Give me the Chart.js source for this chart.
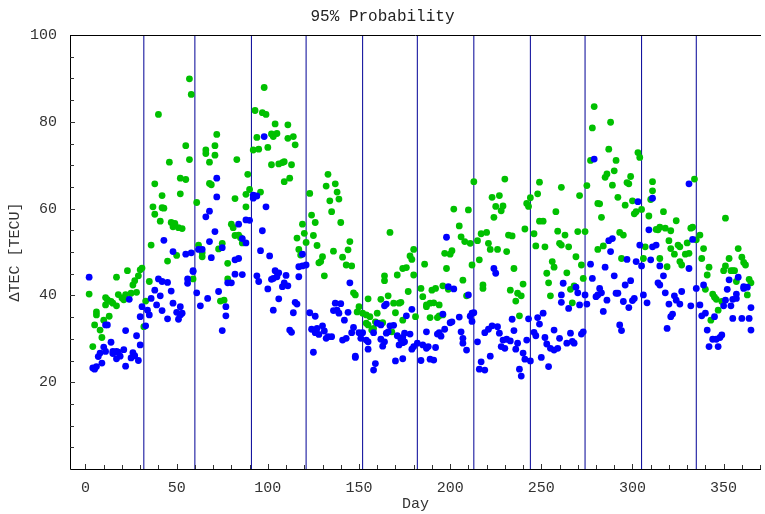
<!DOCTYPE html>
<html>
<head>
<meta charset="utf-8">
<script src="https://cdn.jsdelivr.net/npm/chart.js@4/dist/chart.umd.min.js"></script>
<style>
  html, body { margin: 0; padding: 0; background: #ffffff; }
  #wrap { width: 765px; height: 514px; position: relative; }
</style>
</head>
<body>
<div id="wrap"><canvas id="c"></canvas></div>
<script>
// ---- Data (day of year, ΔTEC in TECU) ----
const chartTitle = "95% Probability";
const xAxisTitle = "Day";
const yAxisTitle = "ΔTEC [TECU]";
const monthStarts = [32, 60, 91, 121, 152, 182, 213, 244, 274, 305, 335];
const xTickValues = [0, 50, 100, 150, 200, 250, 300, 350];
const yTickValues = [20, 40, 60, 80, 100];

const greenSeries = [
[2,40.3],[4,28.2],[5,33.2],[6,36.2],[6,35.5],[8,32],[9,30.3],[10,34.3],[11,37.8],[11,39.5],[12,39],[13,35.2],[14,38.6],[15,38.2],[17,44.2],[17,37.6],[18,40.2],[20,39.4],[21,39],[22,40.2],[23,45.7],[25,40.5],[26,42.4],[27,43.4],[28,40.7],[29,44.5],[30,45.9],[31,46.3],
[32,32.8],[33,38.7],[35,43.2],[36,51.6],[37,60.4],[38,58.7],[38,65.7],[40,81.7],[41,57.1],[42,60.2],[42,63],[43,60.1],[45,47.9],[46,70.7],[47,56.8],[48,55.8],[49,56.6],[50,49.2],[51,55.6],[52,63.4],[52,67],[53,55.4],[55,66.7],[55,74.5],[57,71.3],[57,89.9],[58,86.3],[59,43.8],[61,61.4],[62,51.6],[64,48.9],[64,49.8],[66,73.5],[66,72.7],[68,70.7],[68,65.8],[69,65.5],[71,74.5],[71,72.3],[72,77.1],[73,50.7],[74,38.7],[75,52],[76,38.9],[78,43.8],[78,47.4],[80,56.4],[81,55.6],[82,53.8],[82,62.3],[83,71.3],[84,53.9],[85,53.3],[86,52.1],[88,63.3],[88,60.4],[89,67.9],[90,64.4],[92,73.5],[93,82.6],[94,76.4],[95,73.7],[96,63.8],[97,82.1],[98,87.9],[99,81.7],[100,74.1],
[102,77.2],[103,76.6],[104,79.5],[105,77.3],[102,70.1],[106,70.3],[108,70.6],[109,70.8],[109,66.2],[111,76.2],[111,79.3],[112,67],[113,70.1],[114,76.6],[115,74.7],
[116,53.2],[117,50.6],[118,49.3],[119,56.4],[120,54.3],[121,52.2],[123,63.5],[124,58.5],[125,53.8],[126,56.8],[127,51.5],[128,47.5],[129,47.8],[130,48.9],[131,44.5],[132,65.2],[133,67.9],[134,61.8],[135,59.3],[136,50.2],[137,65.7],[138,63.8],[139,62.2],[140,56.8],[141,48.8],[143,47],[144,50.5],[145,52.4],[146,46.8],[147,40.6],[148,40.1],[149,36.2],[150,37.4],[152,35.9],[154,33.6],[154,35.5],[155,39.2],[155,33.2],[156,35.1],[157,32],[158,32.4],[159,33.9],[160,35.9],[161,33.6],[162,39.1],[163,33.7],[164,44.5],[164,43.4],[166,39.9],[167,54.5],[168,31.6],[169,38.2],[170,36],[171,44.7],[172,38.2],[173,38.4],[174,34.3],[174,46.2],[176,46.4],[177,40.9],[178,49.1],[179,48.3],[180,44.7],[180,50.6],[181,35.1],
[186,47.2],[184,41.6],[185,39.7],[187,37.8],[189,38.2],[191,38.3],[194,37.8],[187,37.4],[190,41.2],[192,41.6],[189,34.9],[193,34.9],[196,35.5],[194,35.3],[196,42.2],[199,41.4],[198,46.2],[197,49.7],[200,49.5],[201,50.3],[202,59.9],[205,56],[206,53.5],[208,52.4],[211,52],[207,43.5],[210,59.7],[212,47],[213,66.2],[209,39.9],[215,52.6],[216,48.2],[217,54.2],[220,54.5],[221,52],[222,50.6],[226,50.6],[218,42.4],[218,41.6],[223,62.6],[227,63],[225,60.5],[229,60.6],[228,59.5],[224,58],[230,66.8],[231,50.1],[232,53.9],[234,53.7],[235,46.2],[233,41.2],[240,42.6],[237,40.5],[239,39.9],[236,38.7],[238,35.3],[241,55.3],[242,61.2],[243,60.5],[244,62.5],[246,54.2],[247,51.4],[249,66.1],[248,63.4],[249,57.1],[251,57.1],[252,51.2],[258,59.3],[259,54.8],[260,52],[261,51.6],[261,64.9],[256,47.8],[257,46.5],[253,45.1],[254,42.9],[255,39.9],
[263,53.9],[264,45.2],[265,51.2],[266,41.4],[267,38.3],[268,42.2],[269,48.9],[270,54.7],[271,63],[272,47],[273,43.9],[274,54.7],[275,65.3],[277,71.1],[278,78.6],[279,83.5],[281,50.6],[281,61.2],[282,61.1],[283,58],[284,51.4],[285,67.2],[286,68],[287,73.7],[288,79.9],[289,65.4],[290,68.7],[291,71.1],[292,62.6],[293,54.5],[294,48.5],[295,53.9],[296,60.8],[297,66],[298,65.7],[299,67.4],[300,61.8],[301,58.8],[302,59.3],[303,72.9],[304,71.8],[305,59.8],[306,48.5],[307,51.2],[309,58.3],[310,62.1],[311,66.2],[311,64.1],[313,55.2],[314,55.1],[315,48.5],[315,55.7],[317,59.3],[318,55.5],[319,46.6],[320,52.6],[321,50.8],[321,54.9],[323,49.5],[324,57.2],[325,51.6],[326,47.8],[326,51.2],[327,47],[329,49.5],[330,52.1],[331,49.7],[332,55.5],[333,55.7],[334,66.8],[335,52.8],[337,53.9],[338,48.5],[339,50.8],[340,41.4],[341,44.7],[342,46.5],[343,34.3],[344,40.3],[345,39.6],[346,39.1],[347,36.6],[349,38.6],[350,45.7],[351,46.8],[351,57.8],[353,48.5],[354,45.7],[355,45.7],[356,45.7],[357,43.2],[358,50.8],[360,48.8],[361,47.6],[362,47],[363,40.1],[364,43.7],[365,42.9]
];

const blueSeries = [
[2,44.2],[4,23.3],[5,23],[6,23.6],[7,25.9],[8,26.7],[9,24.4],[10,28.1],[11,27.1],[11,33.2],[12,33.2],[14,29.2],[15,27.1],[15,26.6],[17,27.1],[17,25.4],[18,26.9],[19,26],[21,27.5],[22,23.7],[22,31.9],[24,39.1],[25,25.6],[26,26.8],[27,26.1],[28,30.7],[29,25],
[30,28.6],[30,35.1],[31,37.4],[33,33],[34,36.6],[35,35.5],[36,39.3],[38,41.2],[39,37.8],[40,43.8],[41,39.9],[42,36.5],[42,43.2],[43,52.7],[45,43],[45,34.6],[47,41],[48,50.1],[48,38.2],[50,36.1],[51,34.5],[52,37.4],[52,35.5],[53,35.9],[55,49.5],[56,42.8],[56,43.8],[58,49.8],[59,45.7],[59,45.5],[61,40.6],[62,50.6],[63,37.6],[64,50.6],[66,58.1],[67,39.3],[68,59.4],[68,52.4],[69,48.7],[71,54.7],[72,62.7],[72,67],[73,40.9],[75,31.9],[75,51],[77,35.3],[77,37.4],[78,42.9],[80,42.9],[82,44.9],[82,48.2],[84,48.5],[84,56.4],[86,44.8],[86,53.1],[88,57.4],[88,52.1],[90,57.3],[92,62.4],[92,63.1],[94,62.9],[94,44.5],[95,43.2],[96,50.3],[97,54.9],[98,76.6],[99,60.4],
[100,41.5],[101,49.1],[102,43.7],[103,43.9],[103,36.6],[104,45.7],[105,44.3],[106,45.2],[106,39.2],[108,42],[109,42.9],[110,44.6],[111,42.2],[112,32],[113,31.5],[114,36],[115,38.4],[116,38],[117,44.3],[117,46.6],[119,46.8],[119,49.5],[121,47],[123,36],[124,32.2],[125,26.9],[126,35.2],[126,31.4],[127,32.4],[128,31],[130,33],[131,31.8],[132,30.1],[133,30.5],[135,30.5],[136,36.5],[137,38.2],[138,36.6],[139,35.9],[140,38.1],[141,29.7],[142,34.3],[143,30.1],[144,36.1],[145,42.9],[146,31.4],[147,32.6],[148,26],[148,25.7],[150,31.4],[151,30.1],[152,31.4],[154,29.7],[155,29.3],[155,27.6],[158,31.4],[158,22.8],[159,24.3],[160,33.6],[162,33.2],[162,29.9],[163,28.3],[164,37.6],[164,29.3],[165,38],[165,31.3],[166,31.6],[167,33],[169,33.1],[170,24.9],[171,30.7],[172,28.6],[173,29.9],[174,29.1],[174,25.4],[174,30.3],[175,29.3],[175,31.3],[176,35.3],[178,31.1],[179,36.8],[179,27.6],[180,28.2],
[182,29],[185,28.6],[188,28.2],[187,27.8],[184,25],[189,25.3],[191,25.1],[192,28],[187,31.6],[193,31.1],[194,31.4],[195,30.6],[196,35.7],[197,32.2],[200,33.7],[201,33.9],[198,53.4],[199,42],[202,41.5],[205,35],[206,31.6],[207,30.1],[207,29],[209,27.4],[210,40.1],[211,35.2],[212,35.9],[213,36],[212,34],[215,29.3],[217,24.7],[216,23],[219,22.8],[219,31.4],[221,32.2],[223,33],[226,32.8],[222,26],[224,46.2],[225,45.1],[227,31.3],[229,29.7],[231,29.9],[233,29.5],[228,28.2],[230,27.8],[234,34.5],[235,31.9],[236,27.6],[237,29],[238,23],[239,21.4],[240,26.7],[241,25.3],[242,29.7],[243,34.6],[244,24.9],[246,31.5],[247,30.7],[248,34.9],[251,35.9],[249,33.4],[250,25.7],[252,30.3],[253,28.8],[255,27.8],[257,27.4],[259,27.8],[254,23.6],[257,32],[260,30.1],[261,40.1],[261,38.4],[262,42.8],
[264,29],[265,37],[266,31.3],[267,29.4],[268,29],[269,41.9],[270,40.6],[271,37.8],[272,31.1],[273,31.6],[274,40.1],[275,38],[277,47.2],[278,43.9],[279,71.4],[280,39.7],[281,40.1],[282,41.6],[283,40.6],[284,36.3],[285,46.5],[286,38.9],[287,52.6],[288,50.1],[289,53.1],[290,44.5],[291,40.5],[292,40.5],[293,33.2],[294,31.9],[295,38.6],[296,42.4],[297,48.3],[298,37.2],[299,43.4],[300,38.8],[301,39.3],[302,47.8],[303,61.6],[304,51.6],[305,46.8],[306,40.1],[308,38.3],[309,55.1],[310,48.2],[311,51.2],[311,62.4],[313,51.6],[314,42.9],[315,42.4],[315,46.8],[317,44.5],[318,40.6],[319,32.4],[320,38],[321,35.1],[322,35.7],[323,39.9],[324,38.9],[326,38],[327,40.9],[331,46.2],[331,65.7],[332,37.6],[333,52.9],[335,41.6],[337,37.8],[338,35.3],[339,42.4],[340,35.9],[341,32],[342,28.2],[344,29.9],[345,35.1],[346,29.9],[347,28.2],[348,30.3],[349,30.9],[350,37.6],[351,38.9],[352,41.4],[353,43.6],[354,37.6],[355,39.1],[355,34.7],[357,39.3],[357,40.3],[358,44.2],[360,34.7],[361,42],[361,41.6],[363,41.9],[364,34.7],[365,37.2],[365,32]
];

// ---- Styles ----
const FONT = "'Liberation Mono', 'DejaVu Sans Mono', monospace";
const GREEN = 'rgb(0,192,0)';
const BLUE = 'rgb(0,0,255)';
const MONTH_LINE = 'rgb(0,0,150)';

const toXY = arr => arr.map(p => ({x: p[0], y: p[1]}));

const monthDatasets = monthStarts.map(d => ({
  type: 'line',
  data: [{x: d, y: 0}, {x: d, y: 100}],
  borderColor: MONTH_LINE,
  borderWidth: 1,
  pointRadius: 0,
  fill: false,
  order: 5
}));

// Tick marks drawn inside the plot area, positioned by the chart's own scales
const insideTicks = {
  id: 'insideTicks',
  afterDatasetsDraw(chart) {
    const {ctx, chartArea, scales} = chart;
    const xs = scales.x, ys = scales.y;
    ctx.save();
    ctx.strokeStyle = '#000';
    ctx.lineWidth = 1;
    ctx.beginPath();
    ctx.moveTo(chartArea.left + 0.5, chartArea.top + 0.5);
    ctx.lineTo(chartArea.left + 0.5, chartArea.bottom + 0.5);
    ctx.lineTo(chartArea.right, chartArea.bottom + 0.5);
    ctx.moveTo(chartArea.left, chartArea.top + 0.5);
    ctx.lineTo(chartArea.right, chartArea.top + 0.5);
    ctx.stroke();
    ctx.strokeStyle = '#333';
    ctx.beginPath();
    for (let v = 0; v <= 370; v += 10) {
      const px = Math.round(xs.getPixelForValue(v)) + 0.5;
      const len = (v % 50 === 0) ? 5 : 4;
      ctx.moveTo(px, chartArea.bottom);
      ctx.lineTo(px, chartArea.bottom - len);
    }
    for (let v = 5; v <= 95; v += 5) {
      const py = Math.round(ys.getPixelForValue(v)) + 0.5;
      const len = (v % 20 === 0) ? 5 : 4;
      ctx.moveTo(chartArea.left, py);
      ctx.lineTo(chartArea.left + len, py);
    }
    ctx.stroke();
    ctx.restore();
  }
};

new Chart(document.getElementById('c'), {
  type: 'scatter',
  data: {
    datasets: [
      { label: 'blue', data: toXY(blueSeries), backgroundColor: BLUE, borderWidth: 0, pointRadius: 3.4, order: 0 },
      { label: 'green', data: toXY(greenSeries), backgroundColor: GREEN, borderWidth: 0, pointRadius: 3.4, order: 1 },
      ...monthDatasets
    ]
  },
  options: {
    responsive: true,
    maintainAspectRatio: false,
    animation: false,
    layout: { padding: 0 },
    plugins: {
      legend: { display: false },
      tooltip: { enabled: false },
      title: {
        display: true,
        text: chartTitle,
        color: '#222',
        font: { family: FONT, size: 16, weight: 'normal' },
        padding: { top: 7, bottom: 8.8 }
      }
    },
    scales: {
      x: {
        type: 'linear',
        min: -8.5,
        max: 370.5,
        afterFit: s => { s.height = 45; },
        afterBuildTicks: s => { s.ticks = xTickValues.map(v => ({value: v})); },
        grid: { display: false, drawTicks: false },
        border: { display: false },
        ticks: {
          padding: 10,
          color: '#333',
          font: { family: FONT, size: 15 },
          maxRotation: 0,
          autoSkip: false,
          callback: v => String(v)
        },
        title: {
          display: true,
          text: xAxisTitle,
          color: '#333',
          font: { family: FONT, size: 15 },
          padding: { top: 0, bottom: 1 }
        }
      },
      y: {
        type: 'linear',
        min: 0,
        max: 100,
        afterFit: s => { s.width = 70; },
        afterBuildTicks: s => { s.ticks = yTickValues.map(v => ({value: v})); },
        grid: { display: false, drawTicks: false },
        border: { display: false },
        ticks: {
          padding: 13,
          color: '#333',
          font: { family: FONT, size: 15 },
          autoSkip: false,
          callback: v => String(v)
        },
        title: {
          display: true,
          text: yAxisTitle,
          color: '#333',
          font: { family: FONT, size: 15 },
          padding: { top: 6, bottom: 0 }
        }
      }
    }
  },
  plugins: [insideTicks]
});
</script>
</body>
</html>
